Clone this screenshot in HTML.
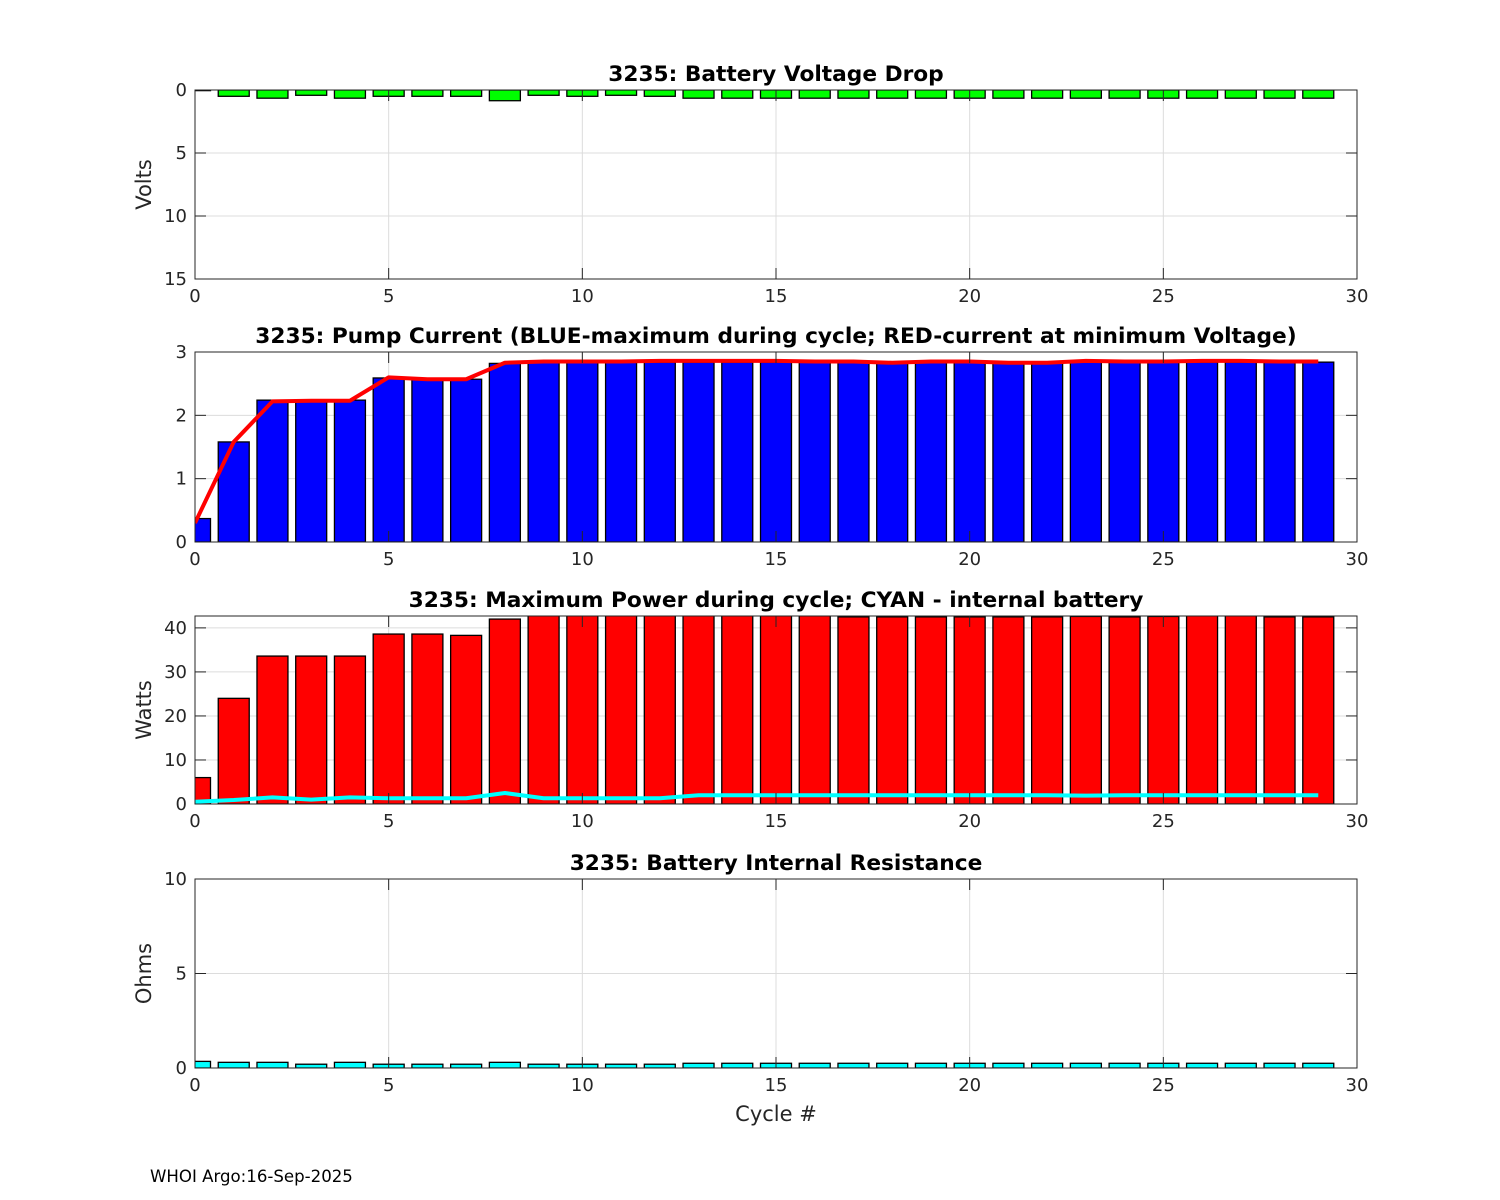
<!DOCTYPE html>
<html><head><meta charset="utf-8"><style>
body{margin:0;background:#fff;}
svg{display:block;font-family:"DejaVu Sans","Liberation Sans",sans-serif;}
</style></head><body>
<svg id="fig" width="1500" height="1200" viewBox="0 0 1500 1200"></svg>
<script>
const cycles=[0,1,2,3,4,5,6,7,8,9,10,11,12,13,14,15,16,17,18,19,20,21,22,23,24,25,26,27,28,29];
const voltDrop=[0.05,0.5,0.65,0.42,0.65,0.5,0.5,0.5,0.85,0.42,0.5,0.42,0.5,0.65,0.65,0.65,0.65,0.65,0.65,0.65,0.65,0.65,0.65,0.65,0.65,0.65,0.65,0.65,0.65,0.65];
const pumpMax=[0.37,1.58,2.24,2.24,2.24,2.59,2.57,2.57,2.82,2.84,2.84,2.84,2.84,2.84,2.84,2.84,2.84,2.84,2.84,2.84,2.84,2.84,2.84,2.84,2.84,2.84,2.84,2.84,2.84,2.84];
const pumpMinV=[0.3,1.58,2.22,2.23,2.23,2.6,2.57,2.57,2.83,2.85,2.85,2.85,2.86,2.86,2.86,2.86,2.85,2.85,2.83,2.85,2.85,2.83,2.83,2.86,2.85,2.85,2.86,2.86,2.85,2.85];
const powerMax=[6,24,33.6,33.6,33.6,38.6,38.6,38.3,42,42.8,42.8,42.8,42.8,42.8,42.8,42.8,42.8,42.5,42.5,42.5,42.5,42.5,42.5,42.6,42.5,42.6,42.8,42.8,42.5,42.5];
const powerBatt=[0.5,0.9,1.5,1.0,1.5,1.3,1.3,1.3,2.5,1.3,1.3,1.3,1.3,2.0,2.0,2.0,2.0,2.0,2.0,2.0,2.0,2.0,2.0,1.9,2.0,2.0,2.0,2.0,2.0,2.0];
const resist=[0.35,0.3,0.3,0.2,0.3,0.2,0.2,0.2,0.3,0.2,0.2,0.2,0.2,0.25,0.25,0.25,0.25,0.25,0.25,0.25,0.25,0.25,0.25,0.25,0.25,0.25,0.25,0.25,0.25,0.25];
const xTicks=[0,5,10,15,20,25,30];

const NS="http://www.w3.org/2000/svg";
const svg=document.getElementById('fig');
function el(t,a,p){const e=document.createElementNS(NS,t);for(const k in a)e.setAttribute(k,a[k]);(p||svg).appendChild(e);return e;}
const X0=195,X1=1357;
const xs=v=>X0+(v-0)/(30-0)*(X1-X0);

function panel(key,top,bot,ymin,ymax,rev,yticks,title,ylabel,xlabel){
  const g=el('g',{});
  
  
  const ys=v=>rev? top+(v-ymin)/(ymax-ymin)*(bot-top) : bot-(v-ymin)/(ymax-ymin)*(bot-top);
  el('rect',{x:X0,y:top,width:X1-X0,height:bot-top,fill:'#fff'},g);
  const clip=el('clipPath',{id:'c'+key},g);
  el('rect',{x:X0,y:top,width:X1-X0,height:bot-top},clip);
  const grid=el('g',{stroke:'#dcdcdc','stroke-width':1},g);
  xTicks.forEach(t=>{if(t>0&&t<30)el('line',{x1:xs(t),x2:xs(t),y1:top,y2:bot},grid);});
  yticks.forEach(t=>{const y=ys(t);if(y>top+1&&y<bot-1)el('line',{x1:X0,x2:X1,y1:y,y2:y},grid);});
  const marks=el('g',{'clip-path':'url(#c'+key+')'},g);
  return {g,ys,marks,finish(){
    el('rect',{x:X0,y:top,width:X1-X0,height:bot-top,fill:'none',stroke:'#262626','stroke-width':1},g);
    xTicks.forEach(t=>{const x=xs(t);
      el('line',{x1:x,x2:x,y1:bot,y2:bot-11,stroke:'#262626'},g);
      el('line',{x1:x,x2:x,y1:top,y2:top+11,stroke:'#262626'},g);
      const tx=el('text',{x:x,y:bot+23,'font-size':18,'text-anchor':'middle',fill:'#262626'},g);tx.textContent=t;
      });
    yticks.forEach(t=>{const y=ys(t);
      el('line',{x1:X0,x2:X0+11,y1:y,y2:y,stroke:'#262626'},g);
      el('line',{x1:X1,x2:X1-11,y1:y,y2:y,stroke:'#262626'},g);
      const tx=el('text',{x:X0-8,y:y+6,'font-size':18,'text-anchor':'end',fill:'#262626'},g);tx.textContent=t;
      });
    const ti=el('text',{x:(X0+X1)/2,y:top-9,'font-size':21.7,'font-weight':'bold','text-anchor':'middle',fill:'#000'},g);ti.textContent=title;
    
    const yl=el('text',{x:0,y:0,'font-size':21,'text-anchor':'middle',fill:'#262626',transform:`translate(151,${(top+bot)/2}) rotate(-90)`},g);yl.textContent=ylabel;
    
    if(xlabel){const xl=el('text',{x:(X0+X1)/2,y:bot+53,'font-size':21,'text-anchor':'middle',fill:'#262626'},g);xl.textContent=xlabel;
      }
  }};
}
function bars(p,vals,color,name){
  vals.forEach((v,i)=>{const x=xs(cycles[i]-0.4),w=xs(0.8)-xs(0);
    const y0=p.ys(0),y1=p.ys(v);
    const r=el('rect',{x:x,y:Math.min(y0,y1),width:w,height:Math.abs(y1-y0),fill:color,stroke:'#000','stroke-width':1.3},p.marks);
    
    });
}
function line(p,vals,color,name){
  const pts=vals.map((v,i)=>xs(cycles[i])+','+p.ys(v)).join(' ');
  const l=el('polyline',{points:pts,fill:'none',stroke:color,'stroke-width':4,'stroke-linejoin':'round'},p.marks);
  
  
}
let p=panel('voltage',90,279,0,15,true,[0,5,10,15],'3235: Battery Voltage Drop','Volts');
bars(p,voltDrop,'#00ff00','voltage-drop-bar');p.finish();
p=panel('pump',352,542,0,3,false,[0,1,2,3],'3235: Pump Current (BLUE-maximum during cycle; RED-current at minimum Voltage)','');
bars(p,pumpMax,'#0000ff','pump-max-bar');line(p,pumpMinV,'#ff0000','pump-current-min-voltage-line');p.finish();
p=panel('power',616,804,0,42.7,false,[0,10,20,30,40],'3235: Maximum Power during cycle; CYAN - internal battery','Watts');
bars(p,powerMax,'#ff0000','power-max-bar');line(p,powerBatt,'#00ffff','internal-battery-power-line');p.finish();
p=panel('resistance',879,1068,0,10,false,[0,5,10],'3235: Battery Internal Resistance','Ohms','Cycle #');
bars(p,resist,'#00ffff','resistance-bar');p.finish();
const f=el('text',{x:150,y:1182,'font-size':16.6,fill:'#000'});f.textContent='WHOI Argo:16-Sep-2025';


</script>
</body></html>
